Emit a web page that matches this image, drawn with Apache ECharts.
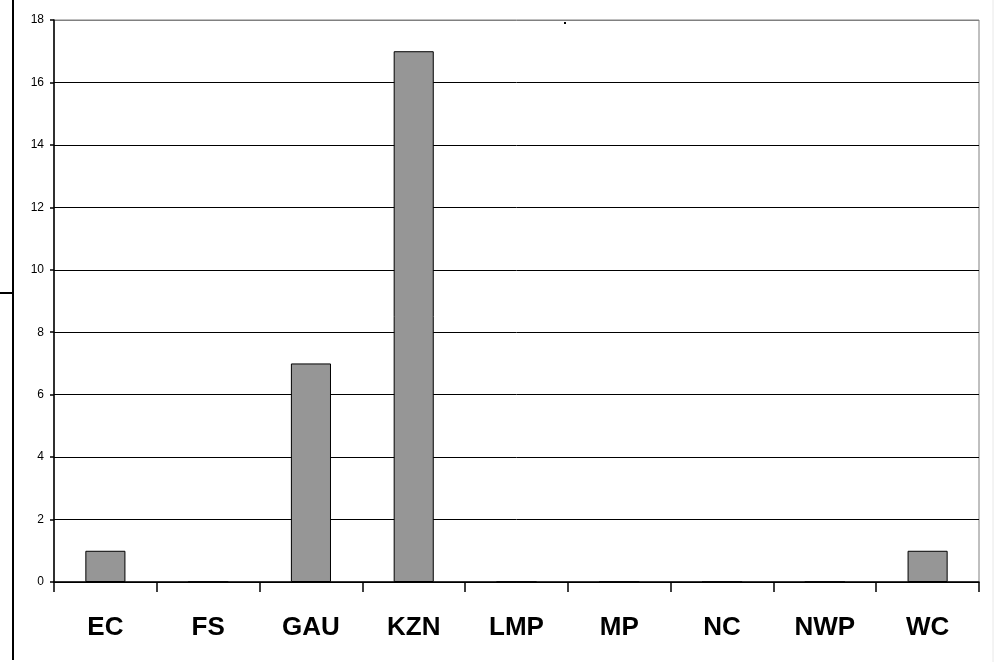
<!DOCTYPE html>
<html>
<head>
<meta charset="utf-8">
<script src="https://cdn.jsdelivr.net/npm/echarts@6/dist/echarts.min.js"></script>
<style>
  html, body { margin: 0; padding: 0; background: #fff; }
  #chart { width: 994px; height: 662px; }
</style>
</head>
<body>
<div id="chart"></div>
<script>
const provinces = ['EC', 'FS', 'GAU', 'KZN', 'LMP', 'MP', 'NC', 'NWP', 'WC'];
const counts = [1, 0, 7, 17, 0, 0, 0, 0, 1];
const yTicks = { min: 0, max: 18, step: 2 };

const myChart = echarts.init(document.getElementById('chart'));

// grid lines: black inside, top edge grey like the plot frame
const splitColors = [];
for (let v = yTicks.min; v <= yTicks.max; v += yTicks.step) {
  splitColors.push(v === yTicks.max ? '#808080' : '#000000');
}

const option = {
  animation: false,
  backgroundColor: '#ffffff',
  grid: {
    left: 54,
    right: 15,
    top: 20,
    bottom: 80,
    show: true,
    borderColor: '#808080',
    borderWidth: 1,
    backgroundColor: 'transparent'
  },
  xAxis: {
    type: 'category',
    data: provinces,
    boundaryGap: true,
    axisLine: { lineStyle: { color: '#000', width: 1.5 } },
    axisTick: { show: true, length: 10, lineStyle: { color: '#000', width: 1.5 } },
    axisLabel: {
      margin: 33,
      fontFamily: 'Liberation Sans, Arial, sans-serif',
      fontSize: 26,
      fontWeight: 'bold',
      color: '#000'
    },
    splitLine: { show: false }
  },
  yAxis: {
    type: 'value',
    min: yTicks.min,
    max: yTicks.max,
    interval: yTicks.step,
    axisLine: { show: true, lineStyle: { color: '#000', width: 1.5 } },
    axisTick: { show: true, length: 4, lineStyle: { color: '#000', width: 1.5 } },
    axisLabel: {
      margin: 10,
      fontFamily: 'Liberation Sans, Arial, sans-serif',
      fontSize: 12,
      color: '#000'
    },
    splitLine: { show: true, lineStyle: { color: splitColors, width: 1 } }
  },
  series: [{
    type: 'bar',
    data: counts,
    barWidth: '39%',
    itemStyle: { color: '#969696', borderColor: '#000', borderWidth: 1 }
  }],
  graphic: [
    { type: 'line', shape: { x1: 13, y1: 0, x2: 13, y2: 660 }, style: { stroke: '#000', lineWidth: 2 } },
    { type: 'line', shape: { x1: 0, y1: 293, x2: 13, y2: 293 }, style: { stroke: '#000', lineWidth: 2 } },
    { type: 'line', shape: { x1: 993, y1: 0, x2: 993, y2: 662 }, style: { stroke: '#e8e8e8', lineWidth: 1 } },
    { type: 'rect', shape: { x: 564, y: 22, width: 2, height: 2 }, style: { fill: '#000' } }
  ]
};

myChart.setOption(option);
</script>
</body>
</html>
